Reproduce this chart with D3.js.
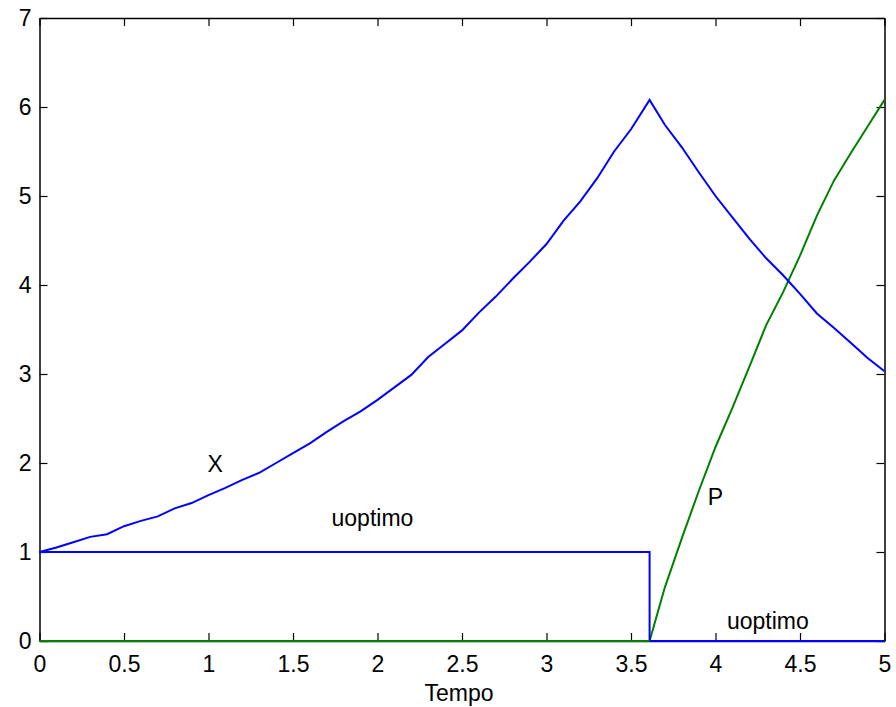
<!DOCTYPE html>
<html>
<head>
<meta charset="utf-8">
<script src="https://cdn.jsdelivr.net/npm/d3@7"></script>
<style>
  body { margin: 0; background: #fff; }
  text { font-family: "Liberation Sans", Arial, sans-serif; }
</style>
</head>
<body>
<script>
// chart size
const w = 896;
const h = 707;
const padL = 39.5, padR = 884.5, padT = 18, padB = 641;
const fs = "23px";

// data
const tSwitch = 3.61;
const timeX = [0, 0.1, 0.2, 0.3, 0.4, 0.5, 0.6, 0.7, 0.8, 0.9, 1.0, 1.1, 1.2, 1.3, 1.4, 1.5, 1.6, 1.7, 1.8, 1.9,
               2.0, 2.1, 2.2, 2.3, 2.4, 2.5, 2.6, 2.7, 2.8, 2.9, 3.0, 3.1, 3.2, 3.3, 3.4, 3.5, 3.61,
               3.7, 3.8, 3.9, 4.0, 4.1, 4.2, 4.3, 4.4, 4.5, 4.6, 4.7, 4.8, 4.9, 5.0];
const valX = [1.00, 1.05, 1.11, 1.17, 1.20, 1.29, 1.35, 1.40, 1.49, 1.55, 1.64, 1.72, 1.81, 1.89, 2.00, 2.11, 2.22, 2.35, 2.47, 2.58,
              2.71, 2.85, 2.99, 3.19, 3.34, 3.49, 3.69, 3.87, 4.07, 4.26, 4.46, 4.72, 4.94, 5.20, 5.50, 5.75, 6.08,
              5.80, 5.55, 5.27, 5.00, 4.76, 4.52, 4.30, 4.11, 3.90, 3.68, 3.52, 3.35, 3.18, 3.03];
const timeP = [0, 3.61, 3.7, 3.8, 3.9, 4.0, 4.1, 4.2, 4.3, 4.4, 4.5, 4.6, 4.7, 4.8, 4.9, 5.0];
const valP = [0, 0, 0.60, 1.15, 1.68, 2.18, 2.62, 3.08, 3.55, 3.92, 4.33, 4.78, 5.17, 5.48, 5.78, 6.08];
const timeU = [0, 3.61, 3.61, 5];
const valU = [1, 1, 0, 0];

const xTicks = [0, 0.5, 1, 1.5, 2, 2.5, 3, 3.5, 4, 4.5, 5];
const yTicks = [0, 1, 2, 3, 4, 5, 6, 7];

const svg = d3.select("body")
  .append("svg")
  .attr("width", w)
  .attr("height", h)
  .style("background", "#fff");

const xScale = d3.scaleLinear().domain([0, 5]).range([padL, padR]);
const yScale = d3.scaleLinear().domain([0, 7]).range([padB, padT]);

const fmt = d3.format("~g");

// axes, ticks pointing inward on every side
const gx = svg.append("g")
  .attr("transform", "translate(0," + padB + ")")
  .call(d3.axisBottom(xScale).tickValues(xTicks).tickSizeInner(-8).tickSizeOuter(0).tickPadding(15).tickFormat(fmt));
const gy = svg.append("g")
  .attr("transform", "translate(" + padL + ",0)")
  .call(d3.axisLeft(yScale).tickValues(yTicks).tickSizeInner(-8).tickSizeOuter(0).tickPadding(8).tickFormat(fmt));
const gt = svg.append("g")
  .attr("transform", "translate(0," + padT + ")")
  .call(d3.axisTop(xScale).tickValues(xTicks).tickSizeInner(-8).tickSizeOuter(0).tickFormat(""));
const gr = svg.append("g")
  .attr("transform", "translate(" + padR + ",0)")
  .call(d3.axisRight(yScale).tickValues(yTicks).tickSizeInner(-8).tickSizeOuter(0).tickFormat(""));

[gx, gy, gt, gr].forEach(g => {
  g.select(".domain").attr("stroke", "#000").attr("stroke-width", 1.5);
  g.selectAll(".tick line").attr("stroke", "#000").attr("stroke-width", 1.2);
  g.selectAll(".tick text").attr("fill", "#000").style("font-size", fs);
});

// lines
const line = d3.line().x(d => xScale(d[0])).y(d => yScale(d[1]));

svg.append("path")
  .datum(timeP.map((t, i) => [t, valP[i]]))
  .attr("fill", "none").attr("stroke", "#008000").attr("stroke-width", 2)
  .attr("d", line);

svg.append("path")
  .datum(timeX.map((t, i) => [t, valX[i]]))
  .attr("fill", "none").attr("stroke", "#0000ff").attr("stroke-width", 2)
  .attr("d", line);

svg.append("path")
  .datum(timeU.map((t, i) => [t, valU[i]]))
  .attr("fill", "none").attr("stroke", "#0000ff").attr("stroke-width", 2)
  .attr("d", line);

// redraw the green zero stretch over the blue part of the bottom
svg.append("path")
  .datum([[0, 0], [tSwitch, 0]])
  .attr("fill", "none").attr("stroke", "#008000").attr("stroke-width", 2)
  .attr("d", line);

// text labels
const labels = [
  {t: 1.04, v: 1.99, s: "X"},
  {t: 1.97, v: 1.38, s: "uoptimo"},
  {t: 4.0, v: 1.62, s: "P"},
  {t: 4.31, v: 0.22, s: "uoptimo"}
];
svg.selectAll(".lbl")
  .data(labels)
  .enter()
  .append("text")
  .attr("class", "lbl")
  .attr("x", d => xScale(d.t))
  .attr("y", d => yScale(d.v))
  .attr("text-anchor", "middle")
  .attr("dominant-baseline", "central")
  .style("font-size", fs)
  .text(d => d.s);

svg.append("text")
  .attr("x", xScale(2.5) - 3)
  .attr("y", 693)
  .attr("text-anchor", "middle")
  .attr("dominant-baseline", "central")
  .style("font-size", fs)
  .text("Tempo");
</script>
</body>
</html>
